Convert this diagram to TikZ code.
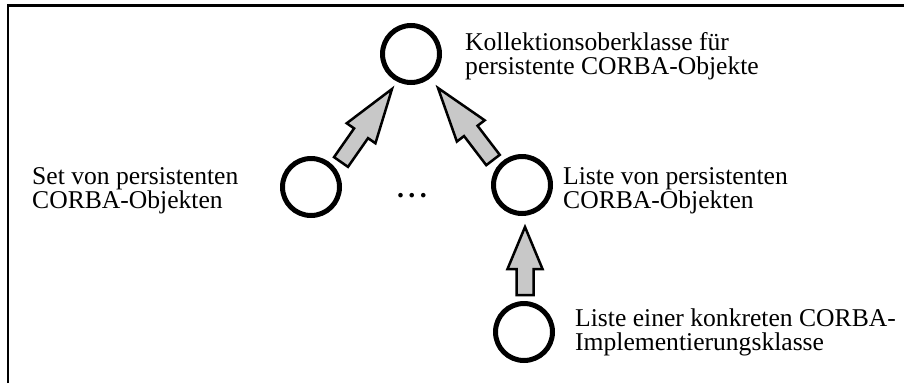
\documentclass[tikz,border=0pt]{standalone}
\usepackage{fontspec}
\setmainfont{Liberation Serif}
\usetikzlibrary{calc}

\definecolor{arrowfill}{RGB}{200,200,200}

% Hollow block arrow from tail #1 to tip #2, head length #3, head-base point named #4
\newcommand\blockarrow[4]{%
  \coordinate (#4) at ($(#2)!#3!(#1)$);
  \draw[hollowarrow]
    ($(#1)!8.5pt!90:(#2)$) -- ($(#4)!8.5pt!90:(#2)$) -- ($(#4)!17.5pt!90:(#2)$)
    -- (#2)
    -- ($(#4)!17.5pt!-90:(#2)$) -- ($(#4)!8.5pt!-90:(#2)$) -- ($(#1)!8.5pt!-90:(#2)$)
    -- cycle;
}

\begin{document}
\begin{tikzpicture}[x=1pt,y=-1pt,
  ring/.style={circle,draw=black,line width=5pt,minimum size=57pt,inner sep=0pt},
  hollowarrow/.style={draw=black,fill=arrowfill,line width=2.5pt,line join=miter},
  caption/.style={align=left,inner sep=0pt,anchor=base west,
    font=\fontsize{25.6pt}{24pt}\selectfont},
  frame/.style={draw=black,line width=2.6pt}]
  \useasboundingbox (0,0) rectangle (904,383);

  % partial frame
  \draw[frame] (8,383) -- (8,5.5) -- (904,5.5);

  % class circles
  \node[ring] (top)    at (411,54)  {};
  \node[ring] (left)   at (311,187) {};
  \node[ring] (right)  at (522,185) {};
  \node[ring] (bottom) at (524,332) {};

  % labels (anchored at the baseline of their last line)
  \node[caption] (ltop) at (465,74) {Kollektionsoberklasse für\\persistente CORBA-Objekte};
  \node[caption] (lleft) at (32,208) {Set von persistenten\\CORBA-Objekten};
  \node[caption] (lright) at (563,208) {Liste von persistenten\\CORBA-Objekten};
  \node[caption] (lbottom) at (575,350) {Liste einer konkreten CORBA-\\Implementierungsklasse};

  \node[anchor=base,inner sep=0pt,font=\fontsize{28pt}{24pt}\selectfont\bfseries]
    (dots) at (412,197) {.\kern4.5pt.\kern4.5pt.};

  % inheritance arrows
  \coordinate (a1s) at ($(left)+(30,-25)$);
  \coordinate (a1e) at ($(top)+(-19,35)$);
  \blockarrow{a1s}{a1e}{54pt}{a1h}

  \coordinate (a2s) at ($(right)+(-29,-25)$);
  \coordinate (a2e) at ($(top)+(27,34)$);
  \blockarrow{a2s}{a2e}{54pt}{a2h}

  \coordinate (a3s) at ($(bottom)+(1,-37)$);
  \coordinate (a3e) at ($(right)+(3,42)$);
  \blockarrow{a3s}{a3e}{42pt}{a3h}
\end{tikzpicture}
\end{document}
